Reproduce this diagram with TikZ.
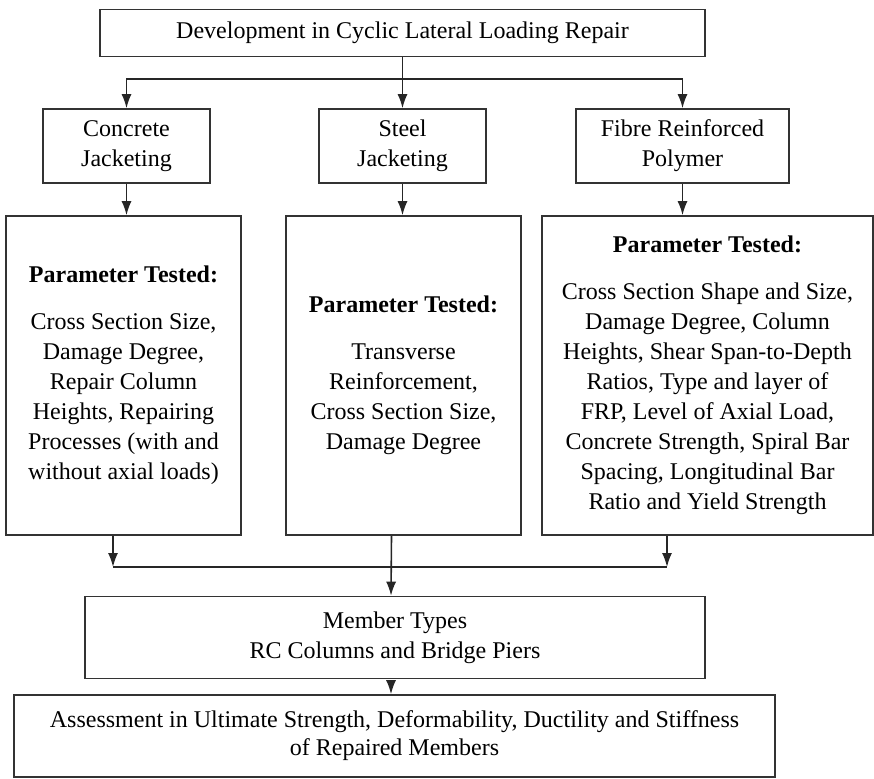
\documentclass[tikz,border=0pt]{standalone}
\usepackage{fontspec}
\setmainfont{Liberation Serif}
\usepackage{tikz}
\usetikzlibrary{arrows.meta}

\begin{document}
\begin{tikzpicture}[x=1pt, y=-1pt,
    box/.style={draw=black!80, line width=1.6pt, align=center, inner sep=0pt,
        font=\fontsize{24}{30}\selectfont},
    link/.style={draw=black!85, line width=1.6pt},
    arr/.style={link, -{Latex[length=14pt,width=10pt]}}]
\useasboundingbox (0,0) rectangle (874,778);
% top level
\node[box, minimum width=605pt, minimum height=47pt] (top) at (402.5,33) {Development in Cyclic Lateral Loading Repair};
% repair methods
\node[box, minimum width=167pt, minimum height=74pt] (concrete) at (126.5,146) {Concrete\\Jacketing};
\node[box, minimum width=167pt, minimum height=74pt] (steel) at (402.5,146) {Steel\\Jacketing};
\node[box, minimum width=213pt, minimum height=74pt] (frp) at (682.5,146) {Fibre Reinforced\\Polymer};
% parameters
\node[box, minimum width=235pt, minimum height=319pt] (par1) at (123.5,375.5)
    {\textbf{Parameter Tested:}\\[17pt]Cross Section Size,\\Damage Degree,\\Repair Column\\Heights, Repairing\\Processes (with and\\without axial loads)};
\node[box, minimum width=235pt, minimum height=319pt] (par2) at (403.5,375.5)
    {\textbf{Parameter Tested:}\\[17pt]Transverse\\Reinforcement,\\Cross Section Size,\\Damage Degree};
\node[box, minimum width=331pt, minimum height=319pt] (par3) at (707.5,375.5)
    {\textbf{Parameter Tested:}\\[17pt]Cross Section Shape and Size,\\Damage Degree, Column\\Heights, Shear Span-to-Depth\\Ratios, Type and layer of\\FRP, Level of Axial Load,\\Concrete Strength, Spiral Bar\\Spacing, Longitudinal Bar\\Ratio and Yield Strength};
% members and assessment
\node[box, minimum width=620pt, minimum height=82pt] (member) at (395,637.5) {Member Types\\RC Columns and Bridge Piers};
\node[box, minimum width=761pt, minimum height=82pt] (assess) at (394.5,736) {Assessment in Ultimate Strength, Deformability, Ductility and Stiffness\\[-2pt]of Repaired Members};

% split below the top box
\coordinate (split) at (402.5,79);
\draw[arr] (top.south) -- (steel.north);
\draw[arr] (split) -| (concrete.north);
\draw[arr] (split) -| (frp.north);
\draw[arr] (concrete.south) -- (concrete.south |- par1.north);
\draw[arr] (steel.south) -- (steel.south |- par2.north);
\draw[arr] (frp.south) -- (frp.south |- par3.north);

% join below the parameter boxes
\coordinate (joinL) at (113,567);
\coordinate (joinR) at (667,567);
\draw[arr] (joinL |- par1.south) -- (joinL);
\draw[arr] (joinR |- par3.south) -- (joinR);
\draw[link] (joinL) -- (joinR);
\draw[arr] ([xshift=-12pt]par2.south) -- ([xshift=-4pt]member.north);
\draw[arr] ([xshift=-4pt, yshift=-8pt]member.south) -- ([xshift=-4pt]member.south |- assess.north);
\end{tikzpicture}
\end{document}
